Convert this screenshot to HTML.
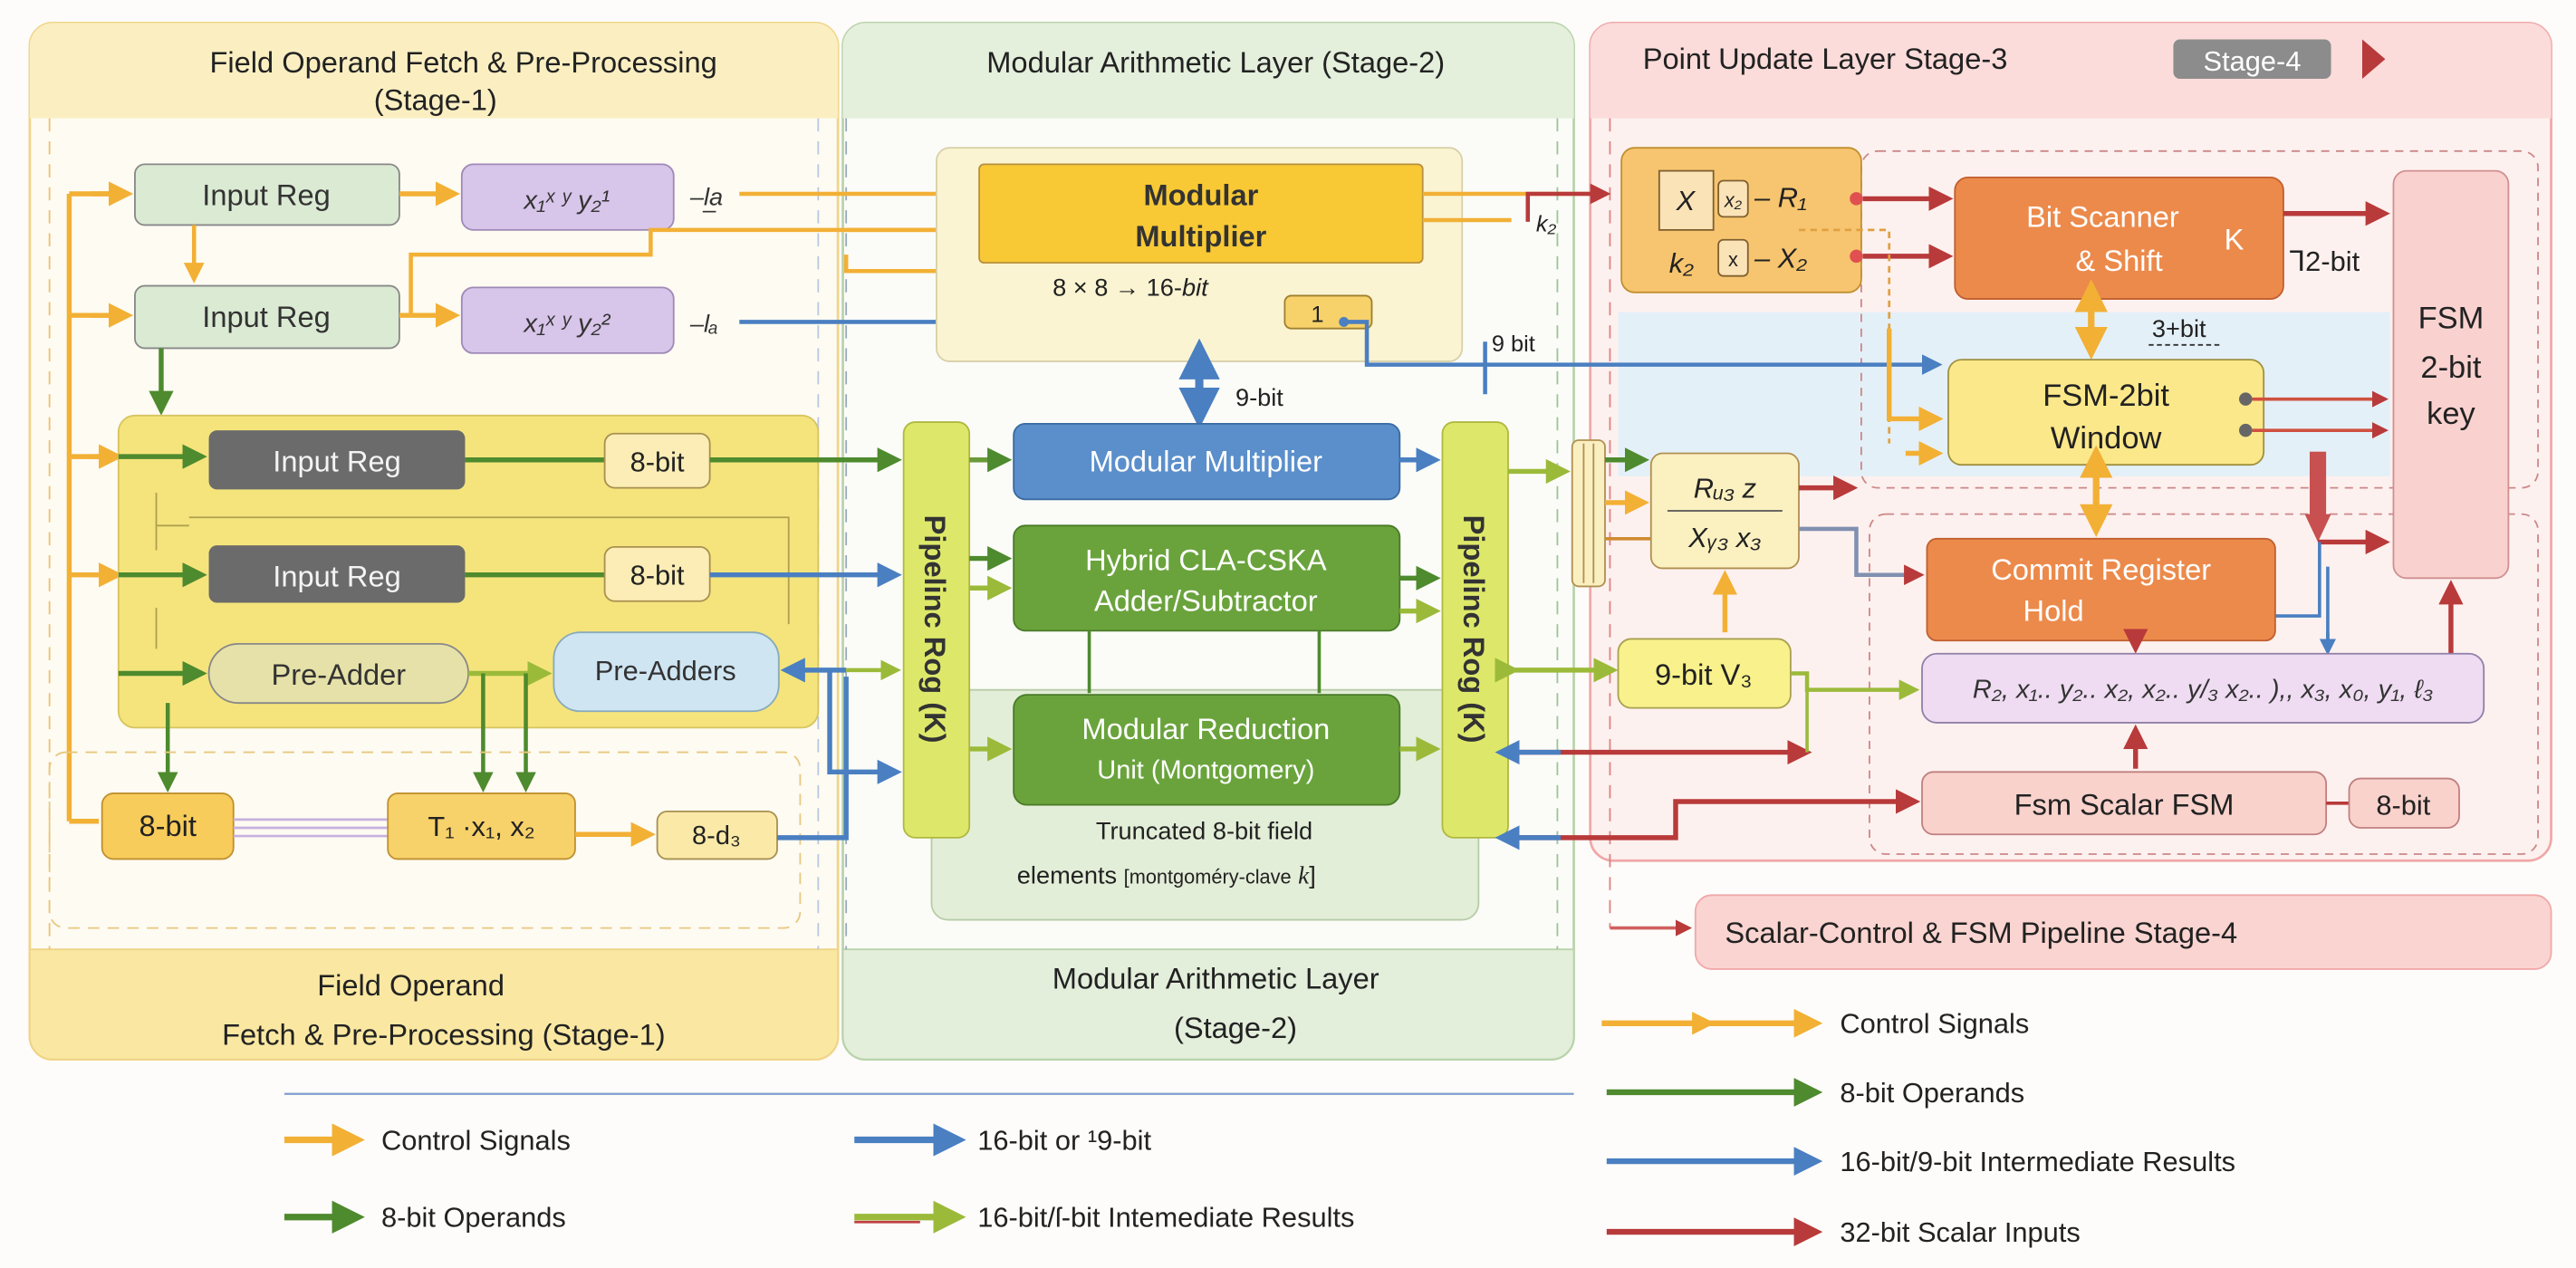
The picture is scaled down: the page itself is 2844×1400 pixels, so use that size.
<!DOCTYPE html>
<html><head><meta charset="utf-8"><style>
html,body{margin:0;padding:0;background:#fdfcfa;}
svg{display:block;}
text{font-family:"Liberation Sans",sans-serif;}
</style></head><body>
<svg width="2844" height="1400" viewBox="0 0 1568 772" xmlns="http://www.w3.org/2000/svg">
<defs>
<marker id="ao" viewBox="0 0 10 10" refX="8" refY="5" markerWidth="5" markerHeight="5" orient="auto"><path d="M0,0L10,5L0,10z" fill="#f2b035"/></marker>
<marker id="ag" viewBox="0 0 10 10" refX="8" refY="5" markerWidth="5" markerHeight="5" orient="auto"><path d="M0,0L10,5L0,10z" fill="#4e8a2e"/></marker>
<marker id="ab" viewBox="0 0 10 10" refX="8" refY="5" markerWidth="5" markerHeight="5" orient="auto"><path d="M0,0L10,5L0,10z" fill="#4a7fc1"/></marker>
<marker id="ar" viewBox="0 0 10 10" refX="8" refY="5" markerWidth="5" markerHeight="5" orient="auto"><path d="M0,0L10,5L0,10z" fill="#b83a3a"/></marker>
<marker id="al" viewBox="0 0 10 10" refX="8" refY="5" markerWidth="5" markerHeight="5" orient="auto"><path d="M0,0L10,5L0,10z" fill="#9cba3a"/></marker>
<marker id="abs" viewBox="0 0 10 10" refX="2" refY="5" markerWidth="5" markerHeight="5" orient="auto-start-reverse"><path d="M0,0L10,5L0,10z" fill="#4a7fc1"/></marker>
<marker id="aos" viewBox="0 0 10 10" refX="2" refY="5" markerWidth="5" markerHeight="5" orient="auto-start-reverse"><path d="M0,0L10,5L0,10z" fill="#f2b035"/></marker>
</defs>

<!-- Stage 1 panel -->
<rect x="18" y="14" width="492" height="631" rx="14" fill="#fdfbf2" stroke="#f0d488" stroke-width="1.5"/>
<path d="M18,72 V28 a14,14 0 0 1 14,-14 H496 a14,14 0 0 1 14,14 V72z" fill="#fbefc2"/>
<path d="M18,578 H510 V631 a14,14 0 0 1 -14,14 H32 a14,14 0 0 1 -14,-14z" fill="#fae8a2" stroke="#f0d488"/>
<line x1="30" y1="72" x2="30" y2="578" stroke="#f0c070" stroke-dasharray="8,6"/>
<line x1="498" y1="72" x2="498" y2="578" stroke="#b8c8e0" stroke-dasharray="8,6"/>
<text x="282" y="44" font-size="18" text-anchor="middle" fill="#222">Field Operand Fetch &amp; Pre-Processing</text>
<text x="265" y="67" font-size="18" text-anchor="middle" fill="#222">(Stage-1)</text>
<text x="250" y="606" font-size="18" text-anchor="middle" fill="#222">Field Operand</text>
<text x="270" y="636" font-size="18" text-anchor="middle" fill="#222">Fetch &amp; Pre-Processing (Stage-1)</text>

<!-- Stage 2 panel -->
<rect x="513" y="14" width="445" height="631" rx="14" fill="#fbfcf8" stroke="#b9d3ab" stroke-width="1.5"/>
<path d="M513,72 V28 a14,14 0 0 1 14,-14 H944 a14,14 0 0 1 14,14 V72z" fill="#e4efdc"/>
<path d="M513,578 H958 V631 a14,14 0 0 1 -14,14 H527 a14,14 0 0 1 -14,-14z" fill="#e3eedb" stroke="#b9d3ab"/>
<line x1="515" y1="72" x2="515" y2="578" stroke="#9ab" stroke-dasharray="8,6"/>
<line x1="948" y1="72" x2="948" y2="578" stroke="#9cc49a" stroke-dasharray="8,6"/>
<text x="740" y="44" font-size="18" text-anchor="middle" fill="#222">Modular Arithmetic Layer (Stage-2)</text>
<text x="740" y="602" font-size="18" text-anchor="middle" fill="#222">Modular Arithmetic Layer</text>
<text x="752" y="632" font-size="18" text-anchor="middle" fill="#222">(Stage-2)</text>

<!-- Stage 3 panel -->
<rect x="968" y="14" width="585" height="510" rx="14" fill="#fdf1ef" stroke="#f0a8a8" stroke-width="1.5"/>
<path d="M968,72 V28 a14,14 0 0 1 14,-14 H1539 a14,14 0 0 1 14,14 V72z" fill="#fbdcda"/>
<rect x="985" y="190" width="470" height="100" fill="#e4f0f8"/>
<line x1="980" y1="72" x2="980" y2="565" stroke="#e08080" stroke-dasharray="8,6"/>
<text x="1000" y="42" font-size="18" fill="#222">Point Update Layer Stage-3</text>
<rect x="1323" y="24" width="96" height="24" rx="4" fill="#8c8c8c"/>
<text x="1371" y="43" font-size="17" text-anchor="middle" fill="#fff">Stage-4</text>
<path d="M1438,24 L1452,36 L1438,48z" fill="#b83a3a"/>
<rect x="1133" y="92" width="412" height="205" rx="10" fill="none" stroke="#c88" stroke-dasharray="5,4"/>
<rect x="1138" y="313" width="407" height="207" rx="10" fill="none" stroke="#c88" stroke-dasharray="5,4"/>

<!-- Scalar control bar -->
<rect x="1032" y="545" width="521" height="45" rx="10" fill="#fad4d0" stroke="#f0a8a8"/>
<text x="1050" y="574" font-size="18" fill="#222">Scalar-Control &amp; FSM Pipeline Stage-4</text>
<path d="M980,565 H1028" stroke="#d06060" stroke-width="2" fill="none" marker-end="url(#ar)"/>

<!-- Stage 1 contents -->
<path d="M42,500 V118 M42,118 H78 M42,192 H78 M42,278 H72 M42,350 H72 M42,500 H60" stroke="#f2b035" stroke-width="3" fill="none"/>
<path d="M55,118 H78" stroke="#f2b035" stroke-width="3" marker-end="url(#ao)"/>
<path d="M55,192 H78" stroke="#f2b035" stroke-width="3" marker-end="url(#ao)"/>
<path d="M55,278 H72" stroke="#f2b035" stroke-width="3" marker-end="url(#ao)"/>
<path d="M55,350 H72" stroke="#f2b035" stroke-width="3" marker-end="url(#ao)"/>

<rect x="82" y="100" width="161" height="37" rx="6" fill="#dbead3" stroke="#888"/>
<text x="162" y="125" font-size="18" text-anchor="middle" fill="#333">Input Reg</text>
<rect x="82" y="174" width="161" height="38" rx="6" fill="#dbead3" stroke="#888"/>
<text x="162" y="199" font-size="18" text-anchor="middle" fill="#333">Input Reg</text>
<path d="M118,137 V170" stroke="#f2b035" stroke-width="2.5" marker-end="url(#ao)"/>
<path d="M243,118 H277" stroke="#f2b035" stroke-width="3" marker-end="url(#ao)"/>
<path d="M243,192 H277" stroke="#f2b035" stroke-width="3" marker-end="url(#ao)"/>
<path d="M98,212 V250" stroke="#4e8a2e" stroke-width="3" marker-end="url(#ag)"/>

<rect x="281" y="100" width="129" height="40" rx="7" fill="#d8c5ea" stroke="#a08ab8"/>
<text x="345" y="127" font-size="16" text-anchor="middle" fill="#333" font-style="italic">x₁ˣ ʸ y₂¹</text>
<rect x="281" y="175" width="129" height="40" rx="7" fill="#d8c5ea" stroke="#a08ab8"/>
<text x="345" y="202" font-size="16" text-anchor="middle" fill="#333" font-style="italic">x₁ˣ ʸ y₂²</text>
<text x="420" y="125" font-size="15" fill="#333" font-style="italic">–l͟a</text>
<text x="420" y="202" font-size="15" fill="#333" font-style="italic">–lₐ</text>

<path d="M450,118 H592" stroke="#f2b035" stroke-width="2.5" fill="none" marker-end="url(#ao)"/>
<path d="M250,192 V155 H396 V140 H592" stroke="#f2b035" stroke-width="2.5" fill="none"/>
<path d="M515,140 H592" stroke="#f2b035" stroke-width="2.5" marker-end="url(#ao)"/>
<path d="M515,155 V165 H592" stroke="#f2b035" stroke-width="2.5" fill="none"/>
<path d="M450,196 H592" stroke="#4a7fc1" stroke-width="2.5" fill="none" marker-end="url(#ab)"/>

<!-- yellow group -->
<rect x="72" y="253" width="426" height="190" rx="10" fill="#f5e47c" stroke="#d8c460"/>
<path d="M95,300 V320 H115 M95,335 V320 M95,370 V395 M115,315 H480 V380" stroke="#b0a050" stroke-width="1" fill="none"/>
<path d="M72,278 H123" stroke="#4e8a2e" stroke-width="3" marker-end="url(#ag)"/>
<path d="M72,350 H123" stroke="#4e8a2e" stroke-width="3" marker-end="url(#ag)"/>
<rect x="127" y="262" width="156" height="36" rx="5" fill="#6b6b6b"/>
<text x="205" y="287" font-size="18" text-anchor="middle" fill="#f4f4f4">Input Reg</text>
<rect x="127" y="332" width="156" height="35" rx="5" fill="#6b6b6b"/>
<text x="205" y="357" font-size="18" text-anchor="middle" fill="#f4f4f4">Input Reg</text>
<path d="M283,280 H368" stroke="#4e8a2e" stroke-width="3"/>
<path d="M283,350 H368" stroke="#4e8a2e" stroke-width="3"/>
<rect x="368" y="264" width="64" height="33" rx="6" fill="#fbedb5" stroke="#a89050"/>
<text x="400" y="287" font-size="17" text-anchor="middle" fill="#222">8-bit</text>
<rect x="368" y="333" width="64" height="33" rx="6" fill="#fbedb5" stroke="#a89050"/>
<text x="400" y="356" font-size="17" text-anchor="middle" fill="#222">8-bit</text>
<path d="M432,280 H546" stroke="#4e8a2e" stroke-width="3" marker-end="url(#ag)"/>
<path d="M432,350 H546" stroke="#4a7fc1" stroke-width="3" marker-end="url(#ab)"/>

<path d="M72,410 H123" stroke="#4e8a2e" stroke-width="3" marker-end="url(#ag)"/>
<rect x="127" y="392" width="158" height="36" rx="18" fill="#e6e1a8" stroke="#888"/>
<text x="206" y="417" font-size="18" text-anchor="middle" fill="#333">Pre-Adder</text>
<path d="M285,410 H333" stroke="#9cba3a" stroke-width="3" marker-end="url(#al)"/>
<rect x="337" y="385" width="137" height="48" rx="16" fill="#cfe5f2" stroke="#8ab"/>
<text x="405" y="414" font-size="17" text-anchor="middle" fill="#333">Pre-Adders</text>
<path d="M102,428 V480" stroke="#4e8a2e" stroke-width="2.5" marker-end="url(#ag)"/>
<path d="M294,410 V480" stroke="#4e8a2e" stroke-width="2.5" marker-end="url(#ag)"/>
<path d="M320,410 V480" stroke="#4e8a2e" stroke-width="2.5" marker-end="url(#ag)"/>
<path d="M515,408 H478" stroke="#4a7fc1" stroke-width="3" marker-end="url(#ab)"/>
<path d="M505,408 V470 H546" stroke="#4a7fc1" stroke-width="3" fill="none" marker-end="url(#ab)"/>
<path d="M515,408 H546" stroke="#9cba3a" stroke-width="2.5" marker-end="url(#al)"/>

<rect x="30" y="458" width="457" height="107" rx="10" fill="none" stroke="#e8c880" stroke-dasharray="7,5"/>
<rect x="62" y="483" width="80" height="40" rx="7" fill="#f7cc5a" stroke="#c09030"/>
<text x="102" y="509" font-size="18" text-anchor="middle" fill="#222">8-bit</text>
<path d="M142,499 H236 M142,504 H236 M142,509 H236" stroke="#c8b0e0" stroke-width="1.5"/>
<rect x="236" y="483" width="114" height="40" rx="6" fill="#f7d16a" stroke="#c09030"/>
<text x="293" y="509" font-size="17" text-anchor="middle" fill="#222" font-family="Liberation Serif">T₁ ·x₁, x₂</text>
<path d="M350,508 H396" stroke="#f2b035" stroke-width="3" marker-end="url(#ao)"/>
<rect x="400" y="494" width="73" height="29" rx="6" fill="#fbe9a8" stroke="#a89050"/>
<text x="436" y="514" font-size="16" text-anchor="middle" fill="#222">8-d₃</text>
<path d="M473,510 H515 V412" stroke="#4a7fc1" stroke-width="3" fill="none"/>

<!-- Stage 2 contents -->
<rect x="570" y="90" width="320" height="130" rx="8" fill="#faf4d2" stroke="#d8d0a8"/>
<rect x="596" y="100" width="270" height="60" rx="3" fill="#f8c935" stroke="#b89040"/>
<text x="731" y="125" font-size="18" text-anchor="middle" font-weight="bold" fill="#333">Modular</text>
<text x="731" y="150" font-size="18" text-anchor="middle" font-weight="bold" fill="#333">Multiplier</text>
<text x="688" y="180" font-size="15" text-anchor="middle" fill="#222">8 × 8 → 16-<tspan font-style="italic">bit</tspan></text>
<rect x="782" y="180" width="53" height="20" rx="4" fill="#f7d16a" stroke="#a08030"/>
<text x="798" y="196" font-size="14" fill="#222">1</text>
<circle cx="818" cy="196" r="3" fill="#4a7fc1"/>
<path d="M818,196 H832 V222 H1180" stroke="#4a7fc1" stroke-width="2.5" fill="none" marker-end="url(#ab)"/>
<path d="M904,208 V240" stroke="#4a7fc1" stroke-width="2.5"/>
<text x="908" y="214" font-size="14" fill="#222">9 bit</text>
<path d="M866,118 H978" stroke="#f2b035" stroke-width="2.5"/>
<path d="M866,134 H920" stroke="#f2b035" stroke-width="2.5"/>
<path d="M930,135 V118 H978" stroke="#b83a3a" stroke-width="2.5" fill="none" marker-end="url(#ar)"/>
<text x="935" y="141" font-size="14" fill="#222" font-style="italic">k₂</text>
<path d="M730,226 V256" stroke="#4a7fc1" stroke-width="5" marker-end="url(#ab)" marker-start="url(#abs)"/>
<text x="752" y="247" font-size="15" fill="#222">9-bit</text>

<rect x="567" y="420" width="333" height="140" rx="10" fill="#e3eed8" stroke="#b8cca8"/>
<text x="733" y="511" font-size="15" text-anchor="middle" fill="#222">Truncated 8-bit field</text>
<text x="710" y="538" font-size="15" text-anchor="middle" fill="#222">elements <tspan font-size="12">[montgoméry-clave</tspan> <tspan font-style="italic" font-family="Liberation Serif">k</tspan>]</text>

<rect x="550" y="257" width="40" height="253" rx="7" fill="#dde86a" stroke="#b0b840"/>
<text transform="translate(563,383) rotate(90)" font-size="18" text-anchor="middle" font-weight="bold" fill="#333">Pipelinc Rog  (K)</text>
<rect x="878" y="257" width="40" height="253" rx="7" fill="#dde86a" stroke="#b0b840"/>
<text transform="translate(891,383) rotate(90)" font-size="18" text-anchor="middle" font-weight="bold" fill="#333">Pipelinc Rog  (K)</text>

<path d="M590,280 H613" stroke="#6a9a3a" stroke-width="3" marker-end="url(#ag)"/>
<path d="M590,340 H613" stroke="#4e8a2e" stroke-width="3" marker-end="url(#ag)"/>
<path d="M590,358 H613" stroke="#9cba3a" stroke-width="3" marker-end="url(#al)"/>
<path d="M590,456 H613" stroke="#9cba3a" stroke-width="3" marker-end="url(#al)"/>
<rect x="617" y="258" width="235" height="46" rx="7" fill="#5b8fcb" stroke="#3a6aa0"/>
<text x="734" y="287" font-size="18" text-anchor="middle" fill="#fff">Modular Multiplier</text>
<rect x="617" y="320" width="235" height="64" rx="7" fill="#6aa33c" stroke="#4a7a28"/>
<text x="734" y="347" font-size="18" text-anchor="middle" fill="#fff">Hybrid CLA-CSKA</text>
<text x="734" y="372" font-size="18" text-anchor="middle" fill="#fff">Adder/Subtractor</text>
<path d="M663,384 V422 M803,384 V422" stroke="#4e8a2e" stroke-width="2"/>
<rect x="617" y="423" width="235" height="67" rx="8" fill="#6aa33c" stroke="#4a7a28"/>
<text x="734" y="450" font-size="18" text-anchor="middle" fill="#fff">Modular Reduction</text>
<text x="734" y="474" font-size="16" text-anchor="middle" fill="#fff">Unit (Montgomery)</text>
<path d="M852,280 H874" stroke="#4a7fc1" stroke-width="3" marker-end="url(#ab)"/>
<path d="M852,352 H874" stroke="#4e8a2e" stroke-width="3" marker-end="url(#ag)"/>
<path d="M852,372 H874" stroke="#9cba3a" stroke-width="3" marker-end="url(#al)"/>
<path d="M852,456 H874" stroke="#9cba3a" stroke-width="3" marker-end="url(#al)"/>

<!-- Stage 3 contents -->
<path d="M918,287 H953" stroke="#9cba3a" stroke-width="3" marker-end="url(#al)"/>
<rect x="957" y="268" width="20" height="89" rx="4" fill="#faefc0" stroke="#b09050"/>
<line x1="964" y1="270" x2="964" y2="355" stroke="#b09050"/>
<line x1="970" y1="270" x2="970" y2="355" stroke="#b09050"/>
<path d="M977,280 H1001" stroke="#4e8a2e" stroke-width="3" marker-end="url(#ag)"/>
<path d="M977,306 H1001" stroke="#f2b035" stroke-width="3" marker-end="url(#ao)"/>
<path d="M977,328 H1005" stroke="#d08a30" stroke-width="2"/>
<rect x="1005" y="276" width="90" height="70" rx="7" fill="#fbf0c0" stroke="#b09050"/>
<text x="1050" y="303" font-size="17" text-anchor="middle" fill="#222" font-style="italic" font-family="Liberation Serif">Rᵤ₃ z</text>
<line x1="1015" y1="311" x2="1085" y2="311" stroke="#555"/>
<text x="1050" y="333" font-size="17" text-anchor="middle" fill="#222" font-style="italic" font-family="Liberation Serif">Xᵧ₃ x₃</text>
<path d="M1095,297 H1128" stroke="#b83a3a" stroke-width="3" marker-end="url(#ar)"/>
<path d="M1095,322 H1130 V350 H1169" stroke="#8090b0" stroke-width="2.5" fill="none" marker-end="url(#ar)"/>
<path d="M1050,385 V350" stroke="#f2b035" stroke-width="3" marker-end="url(#ao)"/>

<path d="M922,408 H982" stroke="#9cba3a" stroke-width="3" marker-end="url(#al)" marker-start="url(#al)"/>
<rect x="985" y="389" width="105" height="42" rx="8" fill="#f8f18c" stroke="#a8a050"/>
<text x="1037" y="417" font-size="18" text-anchor="middle" fill="#222">9-bit V₃</text>
<path d="M1090,410 H1100 V420 H1166" stroke="#9cba3a" stroke-width="2.5" fill="none" marker-end="url(#al)"/>
<path d="M922,458 H1100" stroke="#b83a3a" stroke-width="3" marker-end="url(#ar)"/>
<path d="M1100,458 V420" stroke="#9cba3a" stroke-width="2"/>
<path d="M922,458 H950" stroke="#4a7fc1" stroke-width="3" marker-start="url(#abs)"/>
<path d="M922,510 H1020 V488 H1166" stroke="#b83a3a" stroke-width="3" fill="none" marker-end="url(#ar)"/>
<path d="M922,510 H950" stroke="#4a7fc1" stroke-width="3" marker-start="url(#abs)"/>

<rect x="987" y="90" width="146" height="88" rx="8" fill="#f7c56f" stroke="#c09030"/>
<rect x="1010" y="104" width="33" height="36" fill="#fbe3b8" stroke="#806030"/>
<text x="1026" y="128" font-size="17" text-anchor="middle" font-style="italic" fill="#222" font-family="Liberation Serif">X</text>
<rect x="1046" y="110" width="18" height="22" rx="3" fill="#fbe3b8" stroke="#806030"/>
<text x="1055" y="126" font-size="12" text-anchor="middle" font-style="italic" fill="#222">x₂</text>
<text x="1068" y="126" font-size="17" font-style="italic" fill="#222" font-family="Liberation Serif">– R₁</text>
<text x="1016" y="166" font-size="17" font-style="italic" fill="#222" font-family="Liberation Serif">k₂</text>
<rect x="1046" y="146" width="18" height="22" rx="3" fill="#fbe3b8" stroke="#806030"/>
<text x="1055" y="162" font-size="12" text-anchor="middle" fill="#222">x</text>
<text x="1068" y="163" font-size="17" font-style="italic" fill="#222" font-family="Liberation Serif">– X₂</text>
<circle cx="1130" cy="121" r="4" fill="#e05050"/>
<circle cx="1130" cy="156" r="4" fill="#e05050"/>
<path d="M1134,121 H1186" stroke="#b83a3a" stroke-width="3" marker-end="url(#ar)"/>
<path d="M1134,156 H1186" stroke="#b83a3a" stroke-width="3" marker-end="url(#ar)"/>
<path d="M1095,140 H1150 V270" stroke="#e0a040" stroke-width="1.5" stroke-dasharray="4,3" fill="none"/>
<path d="M1150,200 V255 H1180" stroke="#f2b035" stroke-width="3" fill="none" marker-end="url(#ao)"/>
<path d="M1160,276 H1180" stroke="#f2b035" stroke-width="3" marker-end="url(#ao)"/>

<rect x="1190" y="108" width="200" height="74" rx="8" fill="#ec8a4b" stroke="#c06030"/>
<text x="1280" y="138" font-size="18" text-anchor="middle" fill="#fff">Bit Scanner</text>
<text x="1290" y="165" font-size="18" text-anchor="middle" fill="#fff">&amp; Shift</text>
<text x="1360" y="152" font-size="18" text-anchor="middle" fill="#fff">K</text>
<path d="M1390,130 H1452" stroke="#b83a3a" stroke-width="3" marker-end="url(#ar)"/>
<text x="1393" y="165" font-size="17" fill="#222">ᒣ2-bit</text>
<path d="M1273,186 V215" stroke="#f2b035" stroke-width="4" marker-end="url(#ao)" marker-start="url(#aos)"/>
<text x="1310" y="205" font-size="15" fill="#222">3+bit</text>
<line x1="1308" y1="210" x2="1352" y2="210" stroke="#333" stroke-dasharray="3,2"/>
<rect x="1186" y="219" width="192" height="64" rx="8" fill="#fbe88a" stroke="#a09040"/>
<text x="1282" y="247" font-size="19" text-anchor="middle" fill="#222">FSM-2bit</text>
<text x="1282" y="273" font-size="19" text-anchor="middle" fill="#222">Window</text>
<circle cx="1367" cy="243" r="4" fill="#666"/>
<circle cx="1367" cy="262" r="4" fill="#666"/>
<path d="M1371,243 H1452" stroke="#d05040" stroke-width="2" marker-end="url(#ar)"/>
<path d="M1371,262 H1452" stroke="#d05040" stroke-width="2" marker-end="url(#ar)"/>
<path d="M1276,287 V323" stroke="#f2b035" stroke-width="4" marker-end="url(#ao)" marker-start="url(#aos)"/>
<rect x="1406" y="275" width="10" height="40" fill="#c85050"/>
<path d="M1403,313 L1411,330 L1419,313z" fill="#c85050"/>
<path d="M1411,330 H1452" stroke="#b83a3a" stroke-width="3" marker-end="url(#ar)"/>
<path d="M1385,375 H1412 V330 M1417,345 V395" stroke="#4a7fc1" stroke-width="2" fill="none"/>
<path d="M1417,385 V397" stroke="#4a7fc1" stroke-width="2" marker-end="url(#ab)"/>

<rect x="1457" y="104" width="70" height="248" rx="8" fill="#f9d2d0" stroke="#d09090"/>
<text x="1492" y="200" font-size="19" text-anchor="middle" fill="#222">FSM</text>
<text x="1492" y="230" font-size="19" text-anchor="middle" fill="#222">2-bit</text>
<text x="1492" y="258" font-size="19" text-anchor="middle" fill="#222">key</text>
<path d="M1492,398 V356" stroke="#b83a3a" stroke-width="3" marker-end="url(#ar)"/>

<rect x="1173" y="328" width="212" height="62" rx="6" fill="#ec8a4b" stroke="#c06030"/>
<text x="1279" y="353" font-size="18" text-anchor="middle" fill="#fff">Commit Register</text>
<text x="1250" y="378" font-size="18" text-anchor="middle" fill="#fff">Hold</text>
<path d="M1300,390 V395" stroke="#b83a3a" stroke-width="3" marker-end="url(#ar)"/>

<rect x="1170" y="398" width="342" height="42" rx="9" fill="#efdcf2" stroke="#9080a8"/>
<text x="1341" y="425" font-size="16" text-anchor="middle" font-style="italic" fill="#333" font-family="Liberation Serif">R₂, x₁.. y₂.. x₂, x₂.. y/₃ x₂.. ),, x₃, x₀, y₁, ℓ₃</text>
<path d="M1300,468 V444" stroke="#b83a3a" stroke-width="3" marker-end="url(#ar)"/>
<rect x="1170" y="470" width="246" height="38" rx="7" fill="#f9d2cc" stroke="#c08080"/>
<text x="1293" y="496" font-size="18" text-anchor="middle" fill="#222">Fsm Scalar FSM</text>
<path d="M1416,489 H1430" stroke="#b83a3a" stroke-width="2"/>
<rect x="1430" y="474" width="67" height="30" rx="7" fill="#f9d2cc" stroke="#c08080"/>
<text x="1463" y="496" font-size="17" text-anchor="middle" fill="#222">8-bit</text>

<!-- Legend -->
<line x1="173" y1="666" x2="958" y2="666" stroke="#7e9fcf" stroke-width="1.2"/>
<path d="M173,694 H218" stroke="#f2b035" stroke-width="4" marker-end="url(#ao)"/>
<text x="232" y="700" font-size="17" fill="#222">Control Signals</text>
<path d="M173,741 H218" stroke="#4e8a2e" stroke-width="4" marker-end="url(#ag)"/>
<text x="232" y="747" font-size="17" fill="#222">8-bit Operands</text>
<path d="M520,694 H584" stroke="#4a7fc1" stroke-width="4" marker-end="url(#ab)"/>
<text x="595" y="700" font-size="17" fill="#222">16-bit or ¹9-bit</text>
<path d="M520,741 H584" stroke="#9cba3a" stroke-width="4" marker-end="url(#al)"/>
<path d="M520,744 H560" stroke="#c04040" stroke-width="1.5"/>
<text x="595" y="747" font-size="17" fill="#222">16-bit/ſ-bit Intemediate Results</text>

<path d="M975,623 H1106" stroke="#f2b035" stroke-width="3.5" marker-end="url(#ao)"/>
<path d="M1030,616 L1044,623 L1030,630z" fill="#f2b035"/>
<text x="1120" y="629" font-size="17" fill="#222">Control Signals</text>
<path d="M978,665 H1106" stroke="#4e8a2e" stroke-width="3.5" marker-end="url(#ag)"/>
<text x="1120" y="671" font-size="17" fill="#222">8-bit Operands</text>
<path d="M978,707 H1106" stroke="#4a7fc1" stroke-width="3.5" marker-end="url(#ab)"/>
<text x="1120" y="713" font-size="17" fill="#222">16-bit/9-bit Intermediate Results</text>
<path d="M978,750 H1106" stroke="#b83a3a" stroke-width="3.5" marker-end="url(#ar)"/>
<text x="1120" y="756" font-size="17" fill="#222">32-bit Scalar Inputs</text>
</svg>
</body></html>
